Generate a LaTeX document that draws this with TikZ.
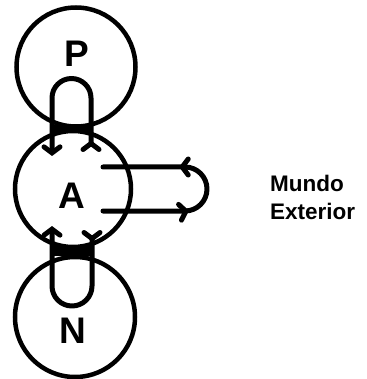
\documentclass[tikz,border=0pt]{standalone}
\usepackage{fontspec}
\newfontfamily\lab{Liberation Sans}
\usetikzlibrary{arrows.meta,decorations.markings}
\tikzset{
  world/.style={circle, draw, line width=4.5pt, inner sep=0pt},
  letter/.style={font=\lab\bfseries\fontsize{37}{37}\selectfont, inner sep=0pt},
  flow/.style={line width=5pt, line cap=round, line join=round},
  barb/.tip={Straight Barb[length=6pt, width=16pt, line cap=round]},
  tailbarb/.tip={Straight Barb[reversed, length=6pt, width=16pt, line cap=round]}
}
\begin{document}
\begin{tikzpicture}[x=1pt,y=-1pt]
\useasboundingbox (0,0) rectangle (366,379);
\node[world, minimum size=119pt] (P) at (76,67) {};
\node[world, minimum size=116pt] (A) at (73,189) {};
\node[world, minimum size=120pt] (N) at (75,317) {};
\node[letter] (lP) at (77,54) {P};
\node[letter] (lA) at (72,196) {A};
\node[letter] (lN) at (73,331) {N};
% where the circles meet, between the legs
\fill (52,125) rectangle (92,133);
\fill (52,246) rectangle (92,256);
% loop through P
\draw[flow, {tailbarb}-{barb}] (91,152) -- (91,98) arc[start angle=0, end angle=-180, radius=19.5] -- (52,156);
% loop through N
\draw[flow, {tailbarb}-{barb}] (92,230) -- (92,286) arc[start angle=0, end angle=180, radius=20] -- (52,226);
% loop through the outer world
\draw[flow, decoration={markings,
   mark=at position 86pt with {\arrow{barb}},
   mark=at position 157pt with {\arrow{barb}}}, postaction={decorate}]
  (103,211) -- (185,211) arc[start angle=90, end angle=-90, radius=22] -- (103,167);
\node[font=\lab\bfseries\fontsize{22.5}{28}\selectfont, align=left, anchor=north west, inner sep=0pt] (mundo) at (270,175) {Mundo\\Exterior};
\end{tikzpicture}
\end{document}
